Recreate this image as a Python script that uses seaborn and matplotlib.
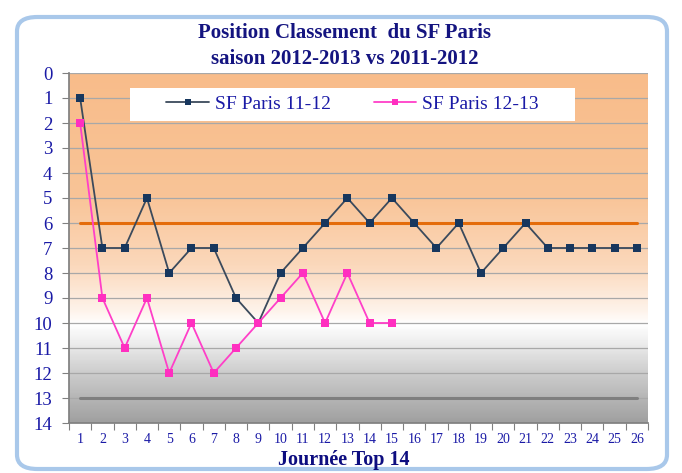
import numpy as np
import pandas as pd
import matplotlib
matplotlib.use("Agg")
import matplotlib.pyplot as plt
import seaborn as sns
from matplotlib.colors import LinearSegmentedColormap
from matplotlib.patches import FancyBboxPatch, Rectangle
from matplotlib.lines import Line2D

rounds = list(range(1, 27))
paris_11_12 = [1, 7, 7, 5, 8, 7, 7, 9, 10, 8, 7, 6, 5, 6, 5, 6, 7, 6, 8, 7, 6, 7, 7, 7, 7, 7]
paris_12_13 = [2, 9, 11, 9, 12, 10, 12, 11, 10, 9, 8, 10, 8, 10, 10]
label_11_12 = "SF Paris 11-12"
label_12_13 = "SF Paris 12-13"
ref_high = 6
ref_low = 13
title = "Position Classement  du SF Paris\nsaison 2012-2013 vs 2011-2012"
xlabel = "Journée Top 14"

df = pd.concat([
    pd.DataFrame({"Journée": rounds[:len(paris_11_12)], "Position": paris_11_12, "Saison": label_11_12}),
    pd.DataFrame({"Journée": rounds[:len(paris_12_13)], "Position": paris_12_13, "Saison": label_12_13}),
])

sns.set_theme(style="white")
plt.rcParams['font.family'] = ['Liberation Serif', 'DejaVu Serif']

fig = plt.figure(figsize=(6.82, 4.73), dpi=100)
fig.patch.set_facecolor("white")

# rounded frame
frame = FancyBboxPatch((17/682, 4/473), 650/682, 452/473,
                       boxstyle="round,pad=0,rounding_size=0.03",
                       transform=fig.transFigure, facecolor="white",
                       edgecolor="#A9C8EA", linewidth=3, zorder=-10)
fig.add_artist(frame)

ax = fig.add_axes([69/682, 1 - 423/473, (648-69)/682, (423-73)/473])
ax.set_zorder(5)
ax.set_xlim(0.5, 26.5)
ax.set_ylim(14, 0)

# gradient background
cmap = LinearSegmentedColormap.from_list("bg", [
    (0.0, "#F8BC8A"),
    (0.35, "#F9C497"),
    (0.55, "#FBD8BB"),
    (0.68, "#FEF3EA"),
    (0.72, "#FFFFFF"),
    (0.76, "#F2F2F2"),
    (0.85, "#D0D0D0"),
    (1.0, "#A0A0A0"),
])
grad = np.linspace(0, 1, 300).reshape(-1, 1)
ax.imshow(grad, aspect="auto", cmap=cmap, extent=[0.5, 26.5, 14, 0], zorder=0, interpolation="bilinear")

for y in range(0, 15):
    ax.axhline(y, color="#A8A8A8", linewidth=0.9, zorder=1)

ax.plot([1, 26], [ref_high, ref_high], color="#E46C0A", linewidth=2.2, zorder=2)
ax.plot([1, 26], [ref_low, ref_low], color="#7F7F7F", linewidth=2.2, zorder=2)

palette = {label_11_12: "#3B4A5C", label_12_13: "#FF3FC8"}
sns.lineplot(data=df, x="Journée", y="Position", hue="Saison", palette=palette,
             marker="s", markersize=6, linewidth=1.3, markeredgewidth=0, ax=ax,
             legend=False, zorder=3)
for ln in ax.lines[-2:]:
    c = matplotlib.colors.to_hex(ln.get_color()).lower()
    if c == "#3b4a5c":
        ln.set_markerfacecolor("#17375E")
    else:
        ln.set_markerfacecolor("#FF2FC0")

ax.set_xlim(0.5, 26.5)
ax.set_ylim(14, 0)
ax.set_xticks(rounds)
ax.set_xticks(np.arange(0.5, 27, 1), minor=True)
ax.tick_params(axis="x", which="major", length=0, pad=7, labelsize=10, labelcolor="#1A1AA6")
ax.tick_params(axis="x", which="minor", length=5, width=0.8, color="#808080", direction="out", bottom=True)
ax.set_yticks(range(0, 15))
ax.tick_params(axis="y", which="major", length=5, width=0.8, color="#808080", direction="out",
               left=True, labelsize=13.5, labelcolor="#1A1AA6", pad=7)
for s in ax.spines.values():
    s.set_visible(False)
ax.spines["left"].set_visible(True)
ax.spines["left"].set_color("#808080")
ax.spines["bottom"].set_visible(True)
ax.spines["bottom"].set_color("#808080")
ax.set_xlabel(xlabel, fontsize=14.5, fontweight="bold", color="#0D0D80")
ax.xaxis.set_label_coords((344 - 69) / 579, -(450 - 423) / 350)
ax.set_ylabel("")

# legend box
lx0, lx1 = (130-69)/579, (575-69)/579
ly0, ly1 = (423-121)/350, (423-88)/350
ax.add_patch(Rectangle((lx0, ly0), lx1 - lx0, ly1 - ly0, transform=ax.transAxes,
                       facecolor="white", edgecolor="none", zorder=4))
handles = [
    Line2D([0], [0], color="#3B4A5C", marker="s", markerfacecolor="#17375E", markeredgewidth=0, markersize=5, linewidth=1.3),
    Line2D([0], [0], color="#FF3FC8", marker="s", markerfacecolor="#FF2FC0", markeredgewidth=0, markersize=5, linewidth=1.3),
]
leg = ax.legend(handles, [label_11_12, label_12_13], ncol=2, loc="center",
                bbox_to_anchor=((lx0 + lx1) / 2, (ly0 + ly1) / 2), frameon=False,
                fontsize=14, handlelength=2.2, columnspacing=2.2, borderpad=0,
                borderaxespad=0, handletextpad=0.3)
for t in leg.get_texts():
    t.set_color("#1A1AA6")
leg.set_zorder(5)

fig.text(345/682, 1 - 46/473, title, ha="center", va="center", fontsize=15,
         fontweight="bold", color="#141480", linespacing=1.45)

fig.savefig("out.png", dpi=100)
